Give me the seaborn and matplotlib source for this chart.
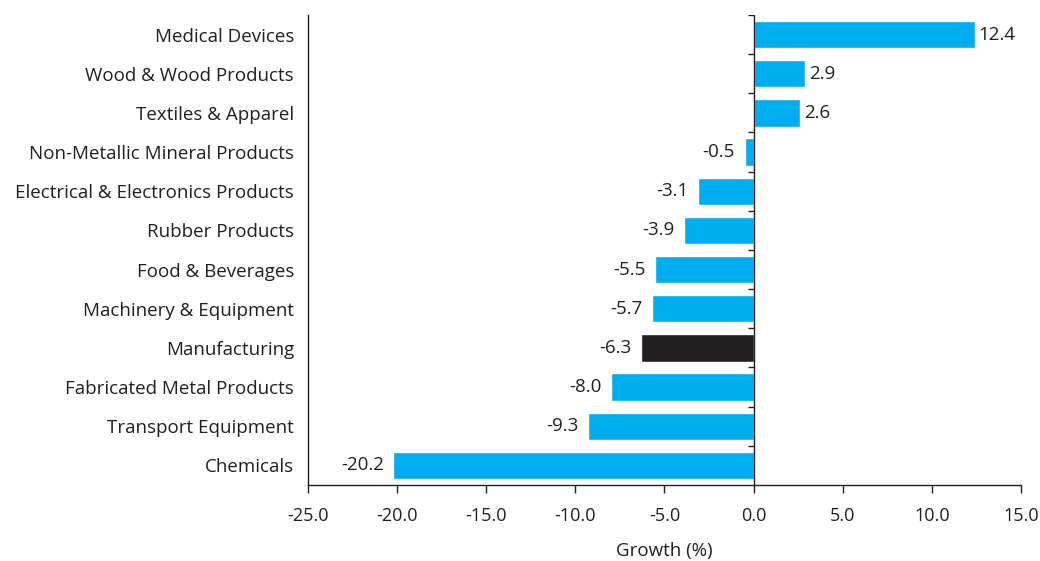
import matplotlib
matplotlib.use("Agg")
import matplotlib.pyplot as plt
import seaborn as sns
import pandas as pd

categories = [
    "Medical Devices", "Wood & Wood Products", "Textiles & Apparel",
    "Non-Metallic Mineral Products", "Electrical & Electronics Products",
    "Rubber Products", "Food & Beverages", "Machinery & Equipment",
    "Manufacturing", "Fabricated Metal Products", "Transport Equipment",
    "Chemicals",
]
growth = [12.4, 2.9, 2.6, -0.5, -3.1, -3.9, -5.5, -5.7, -6.3, -8.0, -9.3, -20.2]
x_ticks = [-25.0, -20.0, -15.0, -10.0, -5.0, 0.0, 5.0, 10.0, 15.0]

BLUE = "#00AEEF"
DARK = "#231F20"
FS = 13.5

df = pd.DataFrame({"category": categories, "growth": growth})
df["group"] = ["total" if c == "Manufacturing" else "industry" for c in categories]

sns.set_theme(style="white")
plt.rcParams["font.family"] = ["Open Sans", "DejaVu Sans"]
plt.rcParams["text.color"] = DARK

fig = plt.figure(figsize=(10.4, 5.61), dpi=100)
ax = fig.add_axes([0.296, 0.1355, 0.6857, 0.8378])

sns.barplot(data=df, y="category", x="growth", hue="group",
            palette={"industry": BLUE, "total": DARK}, orient="h",
            order=categories, width=0.7, dodge=False, legend=False,
            saturation=1, ax=ax)

# value labels at the end of each bar
for i, v in enumerate(growth):
    if v >= 0:
        ax.annotate(f"{v:.1f}", xy=(v, i), xytext=(3, 0), textcoords="offset points",
                    ha="left", va="center", fontsize=FS, color=DARK)
    else:
        ax.annotate(f"{v:.1f}", xy=(v, i), xytext=(-7, 0), textcoords="offset points",
                    ha="right", va="center", fontsize=FS, color=DARK)

ax.set_xlim(-25, 15)
ax.set_ylim(len(categories) - 0.5, -0.5)
ax.set_xticks(x_ticks)
ax.set_xticklabels([f"{t:.1f}" for t in x_ticks])
ax.set_xlabel("Growth (%)", fontsize=FS, color=DARK, labelpad=12)
ax.set_ylabel("")

ax.tick_params(axis="x", direction="out", length=6, width=1, color=DARK,
               labelsize=13, labelcolor=DARK, pad=10, bottom=True)
ax.tick_params(axis="y", length=0, labelsize=FS, labelcolor=DARK, pad=10)

for side in ["top", "right"]:
    ax.spines[side].set_visible(False)
for side in ["left", "bottom"]:
    ax.spines[side].set_color(DARK)
    ax.spines[side].set_linewidth(1)

# zero line with short ticks between categories
ax.axvline(0, color=DARK, linewidth=1)
boundaries = [i - 0.5 for i in range(len(categories))]
ax.hlines(boundaries, -0.3, 0, color=DARK, linewidth=1)

fig.savefig("out.png", dpi=100)
